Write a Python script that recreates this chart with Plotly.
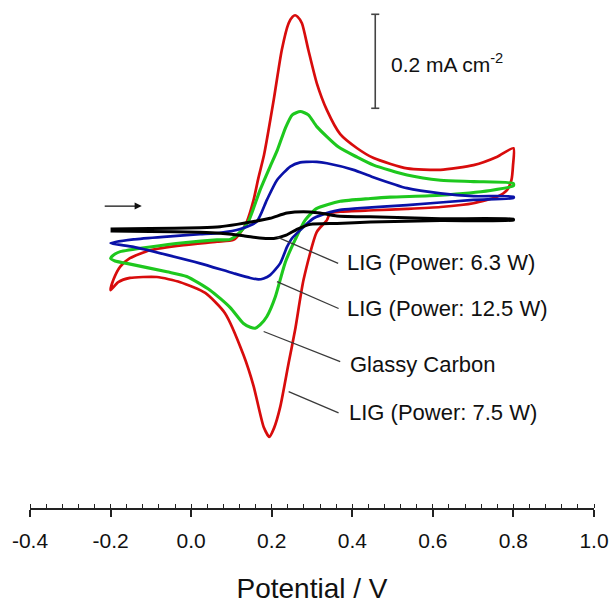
import plotly.graph_objects as go

# Potential (V) and current density (mA cm^-2)
red_v = [-0.2, -0.193, -0.176, -0.152, -0.102, -0.019, 0.064, 0.105, 0.122, 0.138, 0.155, 0.167, 0.181,
         0.205, 0.225, 0.242, 0.252, 0.258, 0.264, 0.275, 0.291, 0.312, 0.337, 0.370, 0.412, 0.453, 0.536,
         0.619, 0.701, 0.760, 0.8,
         0.799, 0.795, 0.784, 0.760, 0.701, 0.619, 0.536, 0.453, 0.370, 0.345, 0.337, 0.312, 0.279, 0.258,
         0.242, 0.221, 0.206, 0.194, 0.180, 0.155, 0.130, 0.084, 0.035, -0.027, -0.085, -0.152,
         -0.181, -0.2]
red_i = [-0.128, -0.106, -0.078, -0.060, -0.043, -0.032, -0.025, -0.021, -0.006, 0.017, 0.064, 0.111, 0.160,
         0.277, 0.383, 0.440, 0.454, 0.457, 0.454, 0.440, 0.383, 0.312, 0.255, 0.204, 0.174, 0.153, 0.131,
         0.128, 0.138, 0.156, 0.174,
         0.138, 0.106, 0.085, 0.071, 0.057, 0.049, 0.045, 0.042, 0.039, 0.036, 0.021, -0.004, -0.106, -0.213,
         -0.283, -0.377, -0.421, -0.440, -0.419, -0.332, -0.266, -0.177, -0.134, -0.111, -0.100,
         -0.102, -0.111, -0.128]

green_v = [-0.2, -0.189, -0.176, -0.102, -0.019, 0.064, 0.097, 0.122, 0.142, 0.171, 0.196, 0.214, 0.234,
           0.251, 0.271, 0.291, 0.312, 0.365, 0.412, 0.453, 0.536, 0.619, 0.701, 0.8,
           0.8, 0.743, 0.619, 0.494, 0.445, 0.370, 0.312, 0.283, 0.258, 0.234, 0.221, 0.209, 0.188, 0.171,
           0.159, 0.147, 0.130, 0.097, 0.047, -0.011, -0.060, -0.160, -0.189, -0.2]
green_i = [-0.060, -0.051, -0.046, -0.036, -0.027, -0.021, -0.020, -0.004, 0.018, 0.085, 0.135, 0.170, 0.217,
           0.245, 0.252, 0.245, 0.220, 0.177, 0.155, 0.138, 0.117, 0.106, 0.103, 0.099,
           0.094, 0.084, 0.074, 0.070, 0.067, 0.061, 0.046, 0.021, -0.021, -0.068, -0.106, -0.142, -0.184,
           -0.202, -0.209, -0.207, -0.199, -0.165, -0.128, -0.099, -0.089, -0.071, -0.066, -0.060]

blue_v = [-0.2, -0.143, -0.060, 0.022, 0.072, 0.122, 0.163, 0.188, 0.213, 0.246, 0.271, 0.287, 0.312, 0.337,
          0.403, 0.450, 0.536, 0.619, 0.701, 0.8,
          0.8, 0.701, 0.536, 0.412, 0.370, 0.345, 0.304, 0.271, 0.250, 0.238, 0.221, 0.196, 0.180, 0.167,
          0.147, 0.105, 0.022, -0.060, -0.143, -0.2]
blue_i = [-0.028, -0.020, -0.014, -0.009, -0.006, 0.002, 0.018, 0.064, 0.106, 0.135, 0.144, 0.145, 0.145, 0.142,
          0.128, 0.113, 0.089, 0.078, 0.072, 0.071,
          0.068, 0.064, 0.053, 0.046, 0.043, 0.038, 0.025, 0.000, -0.018, -0.036, -0.071, -0.096, -0.103, -0.105,
          -0.102, -0.092, -0.071, -0.053, -0.036, -0.028]

black_v = [-0.2, -0.102, 0.022, 0.072, 0.114, 0.155, 0.196, 0.238, 0.279, 0.320, 0.362, 0.445, 0.619, 0.8,
           0.8, 0.619, 0.445, 0.362, 0.296, 0.264, 0.236, 0.205, 0.170, 0.130, 0.072, 0.022, -0.102, -0.2]
black_i = [0.002, 0.003, 0.005, 0.007, 0.012, 0.018, 0.025, 0.036, 0.039, 0.036, 0.030, 0.028, 0.024, 0.023,
           0.021, 0.020, 0.017, 0.014, 0.012, 0.002, -0.011, -0.018, -0.017, -0.012, -0.007, -0.005, -0.003, -0.002]

# tick labels
tick_vals = [-0.4, -0.2, 0.0, 0.2, 0.4, 0.6, 0.8, 1.0]
tick_text = ["-0.4", "-0.2", "0.0", "0.2", "0.4", "0.6", "0.8", "1.0"]

# curve labels: text, leader start (V, I), leader end (V, I), text anchor (V, I)
label_text = ["LIG (Power: 6.3 W)", "LIG (Power: 12.5 W)", "Glassy Carbon", "LIG (Power: 7.5 W)"]
lead_v0 = [0.214, 0.213, 0.180, 0.242]
lead_i0 = [-0.015, -0.110, -0.216, -0.344]
lead_v1 = [0.365, 0.366, 0.370, 0.366]
lead_i1 = [-0.071, -0.167, -0.280, -0.389]
text_v = [0.381, 0.381, 0.389, 0.387]
text_i = [-0.070, -0.166, -0.287, -0.389]

# scale bar
bar_v = 0.457
bar_top = 0.459
bar_len = 0.2

FONT = "Arial, Liberation Sans, Helvetica, sans-serif"

fig = go.Figure()
for v, i, c, w in [(red_v, red_i, "#d80c0c", 2.7), (green_v, green_i, "#1ec81e", 3.1),
                   (blue_v, blue_i, "#0a12a8", 2.7), (black_v, black_i, "#000000", 3.0)]:
    fig.add_trace(go.Scatter(x=v, y=i, mode="lines",
                             line=dict(color=c, width=w, shape="spline", smoothing=0.6),
                             hoverinfo="skip"))

shapes = []
for a, b, c, d in zip(lead_v0, lead_i0, lead_v1, lead_i1):
    shapes.append(dict(type="line", xref="x", yref="y", x0=a, y0=b, x1=c, y1=d,
                       line=dict(color="#3a3a3a", width=1.3)))
# scale bar with caps
shapes.append(dict(type="line", xref="x", yref="y", x0=bar_v, x1=bar_v, y0=bar_top, y1=bar_top - bar_len,
                   line=dict(color="#444444", width=1.6)))
for yy in (bar_top, bar_top - bar_len):
    shapes.append(dict(type="line", xref="x", yref="y", x0=bar_v - 0.01, x1=bar_v + 0.01, y0=yy, y1=yy,
                       line=dict(color="#444444", width=1.6)))

annotations = []
for t, x, y in zip(label_text, text_v, text_i):
    annotations.append(dict(x=x, y=y, xref="x", yref="y", text=t, showarrow=False,
                            xanchor="left", yanchor="middle",
                            font=dict(family=FONT, size=22, color="#111111")))
annotations.append(dict(x=bar_v + 0.035, y=0.355, xref="x", yref="y", text="0.2 mA cm<sup>-2</sup>",
                        showarrow=False, xanchor="left", yanchor="middle",
                        font=dict(family=FONT, size=21, color="#111111")))
# scan direction arrow
annotations.append(dict(x=-0.1225, y=0.051, ax=-0.222, ay=0.051, xref="x", yref="y", axref="x", ayref="y",
                        text=" ", showarrow=True, arrowhead=2, arrowsize=1.1, arrowwidth=1.3,
                        arrowcolor="#111111"))

fig.update_layout(
    width=610, height=604,
    margin=dict(l=30, r=16, t=0, b=96),
    paper_bgcolor="white", plot_bgcolor="white",
    showlegend=False,
    shapes=shapes, annotations=annotations,
    xaxis=dict(range=[-0.4, 1.0], showgrid=False, zeroline=False,
               showline=True, linecolor="#222222", linewidth=1.6,
               tickmode="array", tickvals=tick_vals, ticktext=tick_text,
               ticks="outside", ticklen=7, tickwidth=1.6, tickcolor="#222222",
               ticklabelstandoff=6,
               tickfont=dict(family=FONT, size=21, color="#111111"),
               minor=dict(ticks="inside", dtick=0.04, tick0=-0.4, ticklen=4, tickwidth=1.3,
                          tickcolor="#222222", showgrid=False),
               title=dict(text="Potential / V", font=dict(family=FONT, size=28, color="#111111"),
                          standoff=30),
               automargin=False),
    yaxis=dict(range=[-0.5915, 0.4894], visible=False, showgrid=False, zeroline=False),
)

fig.write_html("out.html", config={"displayModeBar": False},
               post_script="document.body.style.margin='0';document.body.style.overflow='hidden';")
